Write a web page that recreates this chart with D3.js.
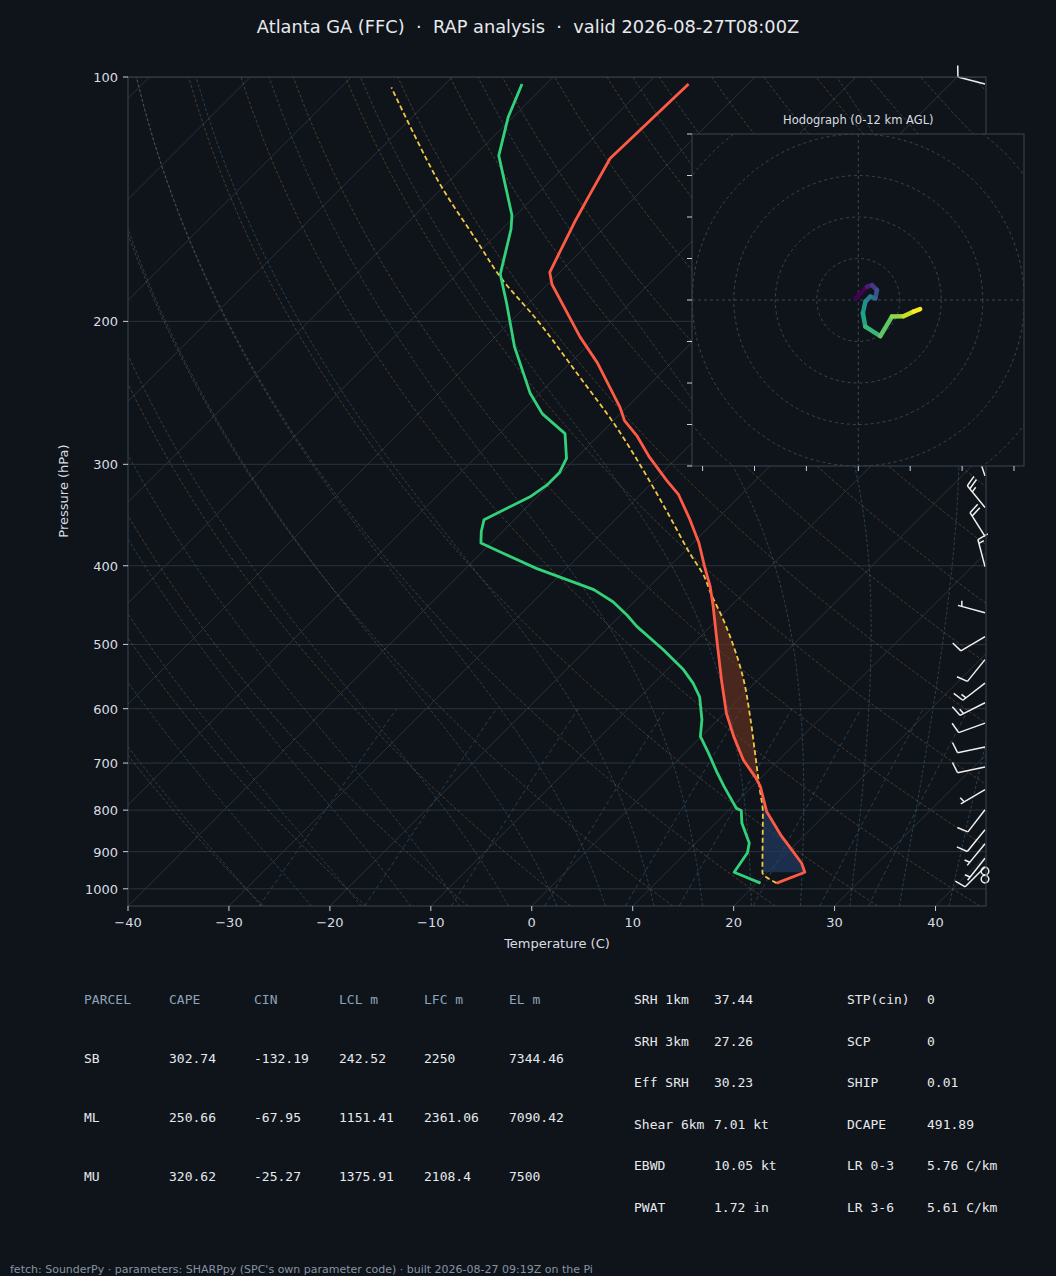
<!DOCTYPE html>
<html>
<head>
<meta charset="utf-8">
<script src="https://cdn.jsdelivr.net/npm/d3@7"></script>
<style>
  html, body { margin: 0; padding: 0; background: #0f141a; }
  svg { display: block; }
</style>
</head>
<body>
<svg id="chart" width="1056" height="1276"></svg>
<script>
// sounding: temperature
const tempP = [984, 954, 930, 891, 858, 803, 748, 730, 694, 649, 608, 553, 494, 449, 424, 401, 375, 351, 327, 314, 294, 277, 265, 255, 225, 209, 190, 180, 174, 151, 139, 126, 102];
const tempT = [22.0, 23.7, 22.5, 19.9, 17.6, 13.9, 10.8, 9.5, 6.5, 3.2, 0.2, -3.6, -8.0, -11.7, -14.0, -16.5, -19.4, -22.6, -26.2, -28.8, -32.8, -36.1, -38.9, -40.7, -47.3, -51.6, -56.7, -59.6, -61.0, -63.5, -64.8, -66.3, -65.9];
// dewpoint
const dewP = [984, 954, 903, 878, 830, 801, 796, 748, 720, 681, 649, 619, 580, 558, 537, 508, 475, 460, 443, 428, 403, 386, 375, 363, 351, 329, 318, 307, 295, 275, 260, 245, 215, 190, 175, 154, 148, 125, 112, 102];
const dewT = [20.4, 16.7, 16.1, 15.3, 12.6, 11.3, 10.6, 7.2, 5.2, 2.4, -0.1, -1.6, -4.1, -6.1, -8.4, -12.3, -17.3, -19.4, -22.1, -25.2, -33.0, -37.8, -41.0, -42.1, -43.0, -40.7, -40.2, -40.2, -40.9, -43.5, -47.7, -51.0, -57.1, -62.2, -65.7, -69.1, -70.4, -77.6, -80.5, -82.4];
// surface parcel path
const parcelP = [984, 954, 807, 748, 681, 608, 553, 503, 466, 432, 412, 386, 348, 317, 267, 234, 199, 177, 159, 137, 115, 103];
const parcelT = [22.0, 19.5, 13.7, 10.7, 7.0, 2.5, -1.4, -5.7, -9.4, -13.3, -15.6, -19.3, -24.9, -30.0, -39.7, -47.7, -57.6, -65.2, -71.4, -80.0, -89.3, -95.0];
// wind barbs (kt)
const windP = [102, 310, 339, 368, 401, 457, 489, 522, 558, 590, 625, 669, 708, 755, 799, 846, 880, 917, 940];
const windU = [9.7, 5, 15.8, 10.7, 3.8, 4.8, 8.6, 6.3, 11.9, 13.4, 9.4, 9.8, 9.8, 4.3, 6.1, 6.3, 3.2, 3.1, 7.1];
const windV = [-2.5, -15, -19.4, -16.9, -14.5, -1.3, 5.1, 7.8, 9.2, 6.7, 3.4, 2.0, 2.0, 2.5, 7.9, 7.7, 3.9, 3.9, 7.1];
const calmP = [962, 984];
// hodograph 0-12 km (kt)
const hodoU = [-0.7, 2.1, 3.3, 4.5, 4.1, 2.9, 1.7, 1.1, 1.7, 5.3, 8.1, 10.9, 13.3, 14.9];
const hodoV = [0.4, 3.2, 3.6, 2.4, 0.4, 0.8, -0.4, -3.2, -6.4, -8.7, -4.0, -3.9, -2.8, -2.2];

const pressureTicks = [100, 200, 300, 400, 500, 600, 700, 800, 900, 1000];
const tempTicks = [-40, -30, -20, -10, 0, 10, 20, 30, 40];

const parcelHeader = ["PARCEL", "CAPE", "CIN", "LCL m", "LFC m", "EL m"];
const parcelRows = [
  ["SB", "302.74", "-132.19", "242.52", "2250", "7344.46"],
  ["ML", "250.66", "-67.95", "1151.41", "2361.06", "7090.42"],
  ["MU", "320.62", "-25.27", "1375.91", "2108.4", "7500"]
];
const kinLabels = ["SRH 1km", "SRH 3km", "Eff SRH", "Shear 6km", "EBWD", "PWAT"];
const kinValues = ["37.44", "27.26", "30.23", "7.01 kt", "10.05 kt", "1.72 in"];
const idxLabels = ["STP(cin)", "SCP", "SHIP", "DCAPE", "LR 0-3", "LR 3-6"];
const idxValues = ["0", "0", "0.01", "491.89", "5.76 C/km", "5.61 C/km"];

const svg = d3.select('#chart');
const L = 128, R = 986, T0 = 77, B = 906;
const x = d3.scaleLinear().domain([-40, 45]).range([L, R]);
const y = d3.scaleLog().domain([1050, 100]).range([B, T0]);
const sx = (t, p) => x(t) + (B - y(p));
const line = d3.line().x(d => sx(d[1], d[0])).y(d => y(d[0]));

svg.append('rect').attr('width', 1056).attr('height', 1276).attr('fill', '#0f141a');
svg.append('defs').append('clipPath').attr('id', 'plotclip')
  .append('rect').attr('x', L).attr('y', T0).attr('width', R - L).attr('height', B - T0);

const plot = svg.append('g').attr('clip-path', 'url(#plotclip)');

// isobars
pressureTicks.forEach(p => {
  plot.append('line').attr('x1', L).attr('x2', R).attr('y1', y(p)).attr('y2', y(p))
    .attr('stroke', '#2a333d').attr('stroke-width', 1);
});
// isotherms
for (let t = -130; t <= 40; t += 10) {
  plot.append('path').attr('d', line([[1050, t], [100, t]]))
    .attr('fill', 'none').attr('stroke', '#29313a').attr('stroke-width', 1);
}
const levels = d3.range(1050, 99, -10);
// dry adiabats
for (let th = -30; th <= 200; th += 10) {
  const pts = levels.map(p => [p, (th + 273.15) * Math.pow(p / 1000, 0.2857) - 273.15]);
  plot.append('path').attr('d', line(pts)).attr('fill', 'none')
    .attr('stroke', 'rgba(150,105,60,0.45)').attr('stroke-width', 1).attr('stroke-dasharray', '3,2');
}
// moist adiabats
function satMix(tc, p) {
  const es = 6.112 * Math.exp(17.67 * tc / (tc + 243.5));
  return 0.622 * es / (p - es);
}
function lapse(tk, p) {
  const rs = satMix(tk - 273.15, p);
  return (287 * tk + 2.5e6 * rs) / (1005 + 2.5e6 * 2.5e6 * rs * 0.622 / (287 * tk * tk)) / p;
}
for (let t0 = -30; t0 <= 45; t0 += 5) {
  let tk = t0 + 273.15;
  for (let pp = 1000; pp < 1050; pp += 1) tk += lapse(tk, pp);
  const pts = [];
  for (let p = 1050; p >= 100; p -= 1) {
    if (p % 10 === 0) pts.push([p, tk - 273.15]);
    tk -= lapse(tk, p);
  }
  plot.append('path').attr('d', line(pts)).attr('fill', 'none')
    .attr('stroke', 'rgba(70,115,140,0.45)').attr('stroke-width', 1).attr('stroke-dasharray', '3,2');
}
// mixing ratio lines
[0.4, 1, 2, 4, 7, 10, 16, 24, 32].forEach(w => {
  const pts = d3.range(1050, 599, -10).map(p => {
    const e = p * (w / 1000) / (0.622 + w / 1000);
    const l = Math.log(e / 6.112);
    return [p, 243.5 * l / (17.67 - l)];
  });
  plot.append('path').attr('d', line(pts)).attr('fill', 'none')
    .attr('stroke', 'rgba(60,95,125,0.55)').attr('stroke-width', 1).attr('stroke-dasharray', '4,3');
});

// CAPE / CIN shading (surface parcel, up to the EL)
function interp(ps, ts, p) {
  for (let i = 0; i < ps.length - 1; i++) {
    if (p <= ps[i] && p >= ps[i + 1]) {
      const f = (Math.log(p) - Math.log(ps[i])) / (Math.log(ps[i + 1]) - Math.log(ps[i]));
      return ts[i] + f * (ts[i + 1] - ts[i]);
    }
  }
  return null;
}
const samp = d3.range(954, 432, -1);
let seg = [], sign = null;
function flush() {
  if (seg.length > 1) {
    const poly = seg.map(d => [sx(d[1], d[0]), y(d[0])])
      .concat(seg.slice().reverse().map(d => [sx(d[2], d[0]), y(d[0])]));
    plot.append('path').attr('d', 'M' + poly.join('L') + 'Z')
      .attr('fill', sign > 0 ? 'rgba(120,55,35,0.55)' : 'rgba(35,65,110,0.6)');
  }
}
samp.forEach(p => {
  const te = interp(tempP, tempT, p), tp = interp(parcelP, parcelT, p);
  const s = tp > te ? 1 : -1;
  if (sign !== null && s !== sign) { flush(); seg = [seg[seg.length - 1]]; }
  sign = s;
  seg.push([p, te, tp]);
});
flush();

// profiles
const zipper = (ps, ts) => ps.map((p, i) => [p, ts[i]]);
plot.append('path').attr('d', d3.line().curve(d3.curveMonotoneY)
    .x(d => sx(d[1], d[0])).y(d => y(d[0]))(zipper(parcelP, parcelT))).attr('fill', 'none')
  .attr('stroke', '#f2c744').attr('stroke-width', 1.8).attr('stroke-dasharray', '5,3');
plot.append('path').attr('d', line(zipper(dewP, dewT))).attr('fill', 'none')
  .attr('stroke', '#33d17a').attr('stroke-width', 2.8).attr('stroke-linejoin', 'round');
plot.append('path').attr('d', line(zipper(tempP, tempT))).attr('fill', 'none')
  .attr('stroke', '#ff5a45').attr('stroke-width', 2.8).attr('stroke-linejoin', 'round');

// wind barbs
const bx = 985;
const barbs = svg.append('g').attr('stroke', '#f0f0f0').attr('stroke-width', 1.5).attr('fill', 'none');
windP.forEach((p, i) => {
  const u = windU[i], v = windV[i];
  const spd = Math.hypot(u, v);
  const dx = -u / spd, dy = v / spd;
  const len = 28, by = y(p);
  const tx = bx + dx * len, ty = by + dy * len;
  barbs.append('line').attr('x1', bx).attr('y1', by).attr('x2', tx).attr('y2', ty);
  const px = -dy, py = dx;
  let rem = Math.round(spd / 5) * 5, pos = 0;
  while (rem >= 10) {
    const ax = tx - dx * pos, ay = ty - dy * pos;
    barbs.append('line').attr('x1', ax).attr('y1', ay)
      .attr('x2', ax + px * 11 + dx * 3).attr('y2', ay + py * 11 + dy * 3);
    rem -= 10; pos += 4;
  }
  if (rem >= 5) {
    if (pos === 0) pos = 4;
    const ax = tx - dx * pos, ay = ty - dy * pos;
    barbs.append('line').attr('x1', ax).attr('y1', ay)
      .attr('x2', ax + px * 5.5 + dx * 1.5).attr('y2', ay + py * 5.5 + dy * 1.5);
  }
});
calmP.forEach(p => {
  barbs.append('circle').attr('cx', bx).attr('cy', y(p) - 4).attr('r', 3.8);
});

// frame and axes
svg.append('rect').attr('x', L).attr('y', T0).attr('width', R - L).attr('height', B - T0)
  .attr('fill', 'none').attr('stroke', '#3a4552');
const ax = svg.append('g').attr('font-family', 'DejaVu Sans').attr('font-size', 13).attr('fill', '#d8dde3');
pressureTicks.forEach(p => {
  ax.append('line').attr('x1', L - 5).attr('x2', L).attr('y1', y(p)).attr('y2', y(p)).attr('stroke', '#c8cfd6');
  ax.append('text').attr('x', L - 10).attr('y', y(p) + 5).attr('text-anchor', 'end').text(p);
});
const fmt = d3.format('d');
tempTicks.forEach(t => {
  ax.append('line').attr('x1', x(t)).attr('x2', x(t)).attr('y1', B).attr('y2', B + 5).attr('stroke', '#c8cfd6');
  ax.append('text').attr('x', x(t)).attr('y', B + 21).attr('text-anchor', 'middle').text(fmt(t));
});
ax.append('text').attr('x', (L + R) / 2).attr('y', 948).attr('text-anchor', 'middle').text('Temperature (C)');
ax.append('text').attr('transform', 'translate(68,491) rotate(-90)').attr('text-anchor', 'middle').text('Pressure (hPa)');

svg.append('text').attr('x', 528).attr('y', 33).attr('text-anchor', 'middle')
  .attr('font-family', 'DejaVu Sans').attr('font-size', 17.8).attr('fill', '#e6e9ed')
  .text('Atlanta GA (FFC)  ·  RAP analysis  ·  valid 2026-08-27T08:00Z').style('white-space', 'pre');

// hodograph inset
const hx0 = 692, hy0 = 134, hs = 332, hc = 858.3, hcy = 300;
const k = 4.15;
const hodo = svg.append('g');
hodo.append('defs').append('clipPath').attr('id', 'hclip')
  .append('rect').attr('x', hx0).attr('y', hy0).attr('width', hs).attr('height', hs);
hodo.append('rect').attr('x', hx0).attr('y', hy0).attr('width', hs).attr('height', hs).attr('fill', '#0f141a');
const hg = hodo.append('g').attr('clip-path', 'url(#hclip)');
[10, 20, 30, 40, 50].forEach(r => {
  hg.append('circle').attr('cx', hc).attr('cy', hcy).attr('r', r * k).attr('fill', 'none')
    .attr('stroke', '#3a4552').attr('stroke-dasharray', '3,3');
});
hg.append('line').attr('x1', hx0).attr('x2', hx0 + hs).attr('y1', hcy).attr('y2', hcy).attr('stroke', '#3a4552').attr('stroke-dasharray', '3,3');
hg.append('line').attr('y1', hy0).attr('y2', hy0 + hs).attr('x1', hc).attr('x2', hc).attr('stroke', '#3a4552').attr('stroke-dasharray', '3,3');
const color = d3.scaleSequential(d3.interpolateViridis).domain([0, hodoU.length - 2]);
for (let i = 0; i < hodoU.length - 1; i++) {
  hg.append('line').attr('x1', hc + hodoU[i] * k).attr('y1', hcy - hodoV[i] * k)
    .attr('x2', hc + hodoU[i + 1] * k).attr('y2', hcy - hodoV[i + 1] * k)
    .attr('stroke', color(i)).attr('stroke-width', 4.5).attr('stroke-linecap', 'round');
}
hodo.append('rect').attr('x', hx0).attr('y', hy0).attr('width', hs).attr('height', hs)
  .attr('fill', 'none').attr('stroke', '#3a4552');
for (let i = -4; i <= 4; i++) {
  const ty = hcy + i * 41.5;
  hodo.append('line').attr('x1', hx0 - 5).attr('x2', hx0).attr('y1', ty).attr('y2', ty).attr('stroke', '#c8cfd6');
}
for (let i = -3; i <= 3; i++) {
  const tx = hc + i * 51.9;
  hodo.append('line').attr('x1', tx).attr('x2', tx).attr('y1', hy0 + hs).attr('y2', hy0 + hs + 5).attr('stroke', '#c8cfd6');
}
hodo.append('text').attr('x', hc).attr('y', 124).attr('text-anchor', 'middle')
  .attr('font-family', 'DejaVu Sans').attr('font-size', 11.5).attr('fill', '#d8dde3')
  .text('Hodograph (0-12 km AGL)');

// parameter table
const tb = svg.append('g').attr('font-family', 'DejaVu Sans Mono').attr('font-size', 13);
const colX = [84, 169, 254, 339, 424, 509];
parcelHeader.forEach((h, i) => tb.append('text').attr('x', colX[i]).attr('y', 1004).attr('fill', '#8ea3b8').text(h));
parcelRows.forEach((row, r) => row.forEach((c, i) =>
  tb.append('text').attr('x', colX[i]).attr('y', 1063 + r * 59).attr('fill', '#e6e9ed').text(c)));
const rowY = [1004, 1046, 1087, 1129, 1170, 1212];
kinLabels.forEach((l, i) => {
  tb.append('text').attr('x', 634).attr('y', rowY[i]).attr('fill', '#e6e9ed').text(l);
  tb.append('text').attr('x', 714).attr('y', rowY[i]).attr('fill', '#e6e9ed').text(kinValues[i]);
});
idxLabels.forEach((l, i) => {
  tb.append('text').attr('x', 847).attr('y', rowY[i]).attr('fill', '#e6e9ed').text(l);
  tb.append('text').attr('x', 927).attr('y', rowY[i]).attr('fill', '#e6e9ed').text(idxValues[i]);
});

svg.append('text').attr('x', 10).attr('y', 1273).attr('font-family', 'DejaVu Sans').attr('font-size', 11)
  .attr('fill', '#8793a0')
  .text("fetch: SounderPy · parameters: SHARPpy (SPC's own parameter code) · built 2026-08-27 09:19Z on the Pi");
</script>
</body>
</html>
